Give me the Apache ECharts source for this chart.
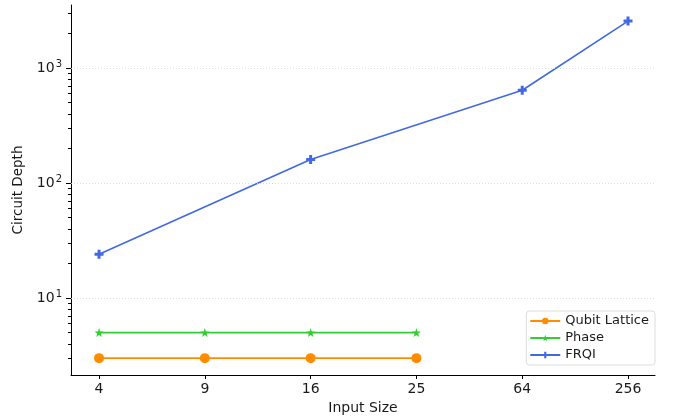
<!DOCTYPE html>
<html><head><meta charset="utf-8">
<script src="https://cdn.jsdelivr.net/npm/echarts@6/dist/echarts.min.js"></script>
<style>html,body{margin:0;padding:0;background:#fff}#c{width:681px;height:417px}</style>
</head><body><div id="c"></div>
<script>
const categories = ['4', '9', '16', '25', '64', '256'];
const qubitLattice = [3, 3, 3, 3, null, null];
const phase = [5, 5, 5, 5, null, null];
const frqi = [24, null, 160, null, 640, 2560];
const yMajor = [10, 100, 1000];
const yMinor = [3,4,5,6,7,8,9,20,30,40,50,60,70,80,90,200,300,400,500,600,700,800,900,2000,3000];

const toPts = arr => arr.map((v, i) => [i, v]).filter(p => p[1] !== null);
const idx = categories.map((_, i) => i);
const FONT = 'DejaVu Sans';
const TXT = '#1a1a1a';
const plus = 'path://M-1,-3H1V-1H3V1H1V3H-1V1H-3V-1H-1Z';
const star = 'path://M0,-10L2.35,-3.24L9.51,-3.09L3.8,1.24L5.88,8.09L0,4L-5.88,8.09L-3.8,1.24L-9.51,-3.09L-2.35,-3.24Z';

const chart = echarts.init(document.getElementById('c'), null, {renderer: 'canvas'});
const yCommon = {type: 'log', min: 2.14, max: 3530, logBase: 10};
chart.setOption({
  animation: false,
  grid: {left: 71, right: 26, top: 5, bottom: 42, containLabel: false, outerBoundsMode: 'none'},
  xAxis: {
    type: 'value', min: -0.265, max: 5.255,
    name: 'Input Size', nameLocation: 'middle', nameGap: 24,
    nameTextStyle: {fontFamily: FONT, fontSize: 14, color: TXT},
    axisLine: {onZero: false, lineStyle: {color: '#000', width: 1}},
    axisTick: {customValues: idx, length: 4, lineStyle: {color: '#000'}},
    axisLabel: {customValues: idx, formatter: v => categories[Math.round(v)], fontFamily: FONT, fontSize: 14, color: TXT, margin: 7},
    splitLine: {show: false}
  },
  yAxis: [
    Object.assign({}, yCommon, {
      name: 'Circuit Depth', nameLocation: 'middle', nameGap: 43,
      nameTextStyle: {fontFamily: FONT, fontSize: 13.5, color: TXT},
      axisLine: {show: true, onZero: false, lineStyle: {color: '#000', width: 1}},
      axisTick: {show: true, customValues: yMajor, length: 5, lineStyle: {color: '#000'}},
      axisLabel: {customValues: yMajor, fontFamily: FONT, fontSize: 14, color: TXT, margin: 9,
        formatter: v => '10{s|' + Math.round(Math.log10(v)) + '}',
        rich: {s: {fontSize: 10, fontFamily: FONT, color: TXT, verticalAlign: 'top', padding: [0,0,8,1]}}},
      splitLine: {show: false}
    }),
    Object.assign({}, yCommon, {
      position: 'left',
      axisLine: {show: false, onZero: false},
      axisTick: {show: true, customValues: yMinor, length: 3, lineStyle: {color: '#000'}},
      axisLabel: {show: false},
      splitLine: {show: false}
    })
  ],
  legend: {
    orient: 'vertical', right: 26, bottom: 52,
    backgroundColor: '#fff', borderColor: '#dcdcdc', borderWidth: 1, borderRadius: 3,
    padding: [3, 6, 3, 3], itemGap: 3, itemWidth: 30, itemHeight: 8,
    textStyle: {fontFamily: FONT, fontSize: 13, color: TXT, lineHeight: 14},
    data: ['Qubit Lattice', 'Phase', 'FRQI']
  },
  series: [
    {name: 'Qubit Lattice', type: 'line', data: toPts(qubitLattice), color: '#ff8c00',
     symbol: 'circle', symbolSize: 10, lineStyle: {width: 1.6}, z: 3,
     markLine: {silent: true, symbol: 'none', label: {show: false},
       lineStyle: {color: '#d6d6d6', type: [1, 2], width: 0.8},
       data: yMajor.map(v => ({yAxis: v}))}},
    {name: 'Phase', type: 'line', data: toPts(phase), color: '#32cd32',
     symbol: star, symbolSize: 9, lineStyle: {width: 1.6}, z: 3},
    {name: 'FRQI', type: 'line', data: toPts(frqi), color: '#4169e1',
     symbol: plus, symbolSize: 9, lineStyle: {width: 1.6}, z: 3}
  ]
});
</script></body></html>
